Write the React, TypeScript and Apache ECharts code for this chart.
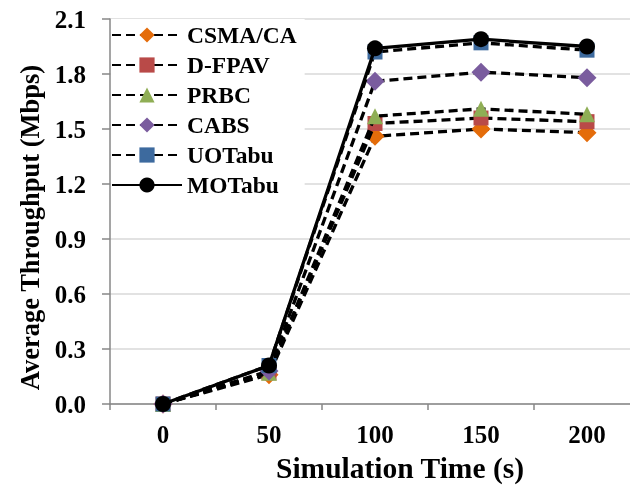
import React, { useEffect, useRef } from "react";
import * as echarts from "echarts";

const categories = ["0", "50", "100", "150", "200"];
const seriesNames = ["CSMA/CA", "D-FPAV", "PRBC", "CABS", "UOTabu", "MOTabu"];
const csma = [0, 0.16, 1.46, 1.5, 1.48];
const dfpav = [0, 0.17, 1.53, 1.56, 1.54];
const prbc = [0, 0.17, 1.57, 1.61, 1.58];
const cabs = [0, 0.18, 1.76, 1.81, 1.78];
const uotabu = [0, 0.21, 1.92, 1.97, 1.93];
const motabu = [0, 0.21, 1.94, 1.99, 1.95];
const yTicks = [0, 0.3, 0.6, 0.9, 1.2, 1.5, 1.8, 2.1];

const FONT = "Liberation Serif";

export default function App() {
  const ref = useRef<HTMLDivElement>(null);
  useEffect(() => {
    if (!ref.current) return;
    const chart = echarts.init(ref.current, undefined, { renderer: "svg" });
    const values = [csma, dfpav, prbc, cabs, uotabu, motabu];
    const symbols = ["diamond", "rect", "triangle", "diamond", "rect", "circle"];
    const sizes = [19, 15, 16, 19, 15, 16];
    const colors = ["#E46C0A", "#B94A48", "#8FAE55", "#7A5C9E", "#3D6A9E", "#000000"];
    const series = values.map((d, i) => ({
      name: seriesNames[i],
      type: "line",
      data: d,
      symbol: symbols[i],
      symbolSize: sizes[i],
      showAllSymbol: true,
      itemStyle: { color: colors[i], borderWidth: 0 },
      lineStyle: {
        color: "#000",
        width: 3.3,
        type: i === 5 ? "solid" : [9, 5],
      },
      z: 2 + i,
    }));
    chart.setOption({
      animation: false,
      textStyle: { fontFamily: FONT },
      grid: { left: 110, width: 530, top: 19, bottom: 83, outerBoundsMode: "none" },
      legend: {
        orient: "vertical",
        left: 111,
        top: 19,
        padding: [4, 8, 4, 0],
        backgroundColor: "#ffffff",
        itemWidth: 70,
        itemHeight: 19,
        itemGap: 6,
        data: seriesNames,
        textStyle: {
          fontFamily: FONT,
          fontWeight: "bold",
          fontSize: 23.5,
          color: "#000",
        },
      },
      xAxis: {
        type: "category",
        data: categories,
        boundaryGap: true,
        name: "Simulation Time (s)",
        nameLocation: "middle",
        nameGap: 49,
        nameTextStyle: {
          fontFamily: FONT,
          fontWeight: "bold",
          fontSize: 29.5,
          color: "#000",
          padding: [0, 0, 0, 50],
        },
        axisLine: { lineStyle: { color: "#878787", width: 1.5 } },
        axisTick: { show: true, length: 6, lineStyle: { color: "#878787", width: 1.5 } },
        axisLabel: {
          margin: 18,
          fontFamily: FONT,
          fontWeight: "bold",
          fontSize: 25,
          color: "#000",
        },
      },
      yAxis: {
        type: "value",
        min: 0,
        max: 2.1,
        interval: 0.3,
        name: "Average Throughput (Mbps)",
        nameLocation: "middle",
        nameGap: 66,
        nameRotate: 90,
        nameTextStyle: {
          fontFamily: FONT,
          fontWeight: "bold",
          fontSize: 26.5,
          color: "#000",
          padding: [0, 32, 0, 0],
        },
        axisLine: { show: true, lineStyle: { color: "#878787", width: 1.5 } },
        axisTick: { show: true, length: 8, lineStyle: { color: "#878787", width: 1.5 } },
        splitLine: { lineStyle: { color: "#d9d9d9", width: 1.5 } },
        axisLabel: {
          margin: 24,
          fontFamily: FONT,
          fontWeight: "bold",
          fontSize: 25,
          color: "#000",
          formatter: (v: number) => (yTicks.some((t) => Math.abs(t - v) < 1e-6) ? v.toFixed(1) : ""),
        },
      },
      series,
    });
    return () => chart.dispose();
  }, []);
  return (
    <div
      ref={ref}
      style={{ position: "fixed", left: 0, top: 0, width: 630, height: 487 }}
    />
  );
}
